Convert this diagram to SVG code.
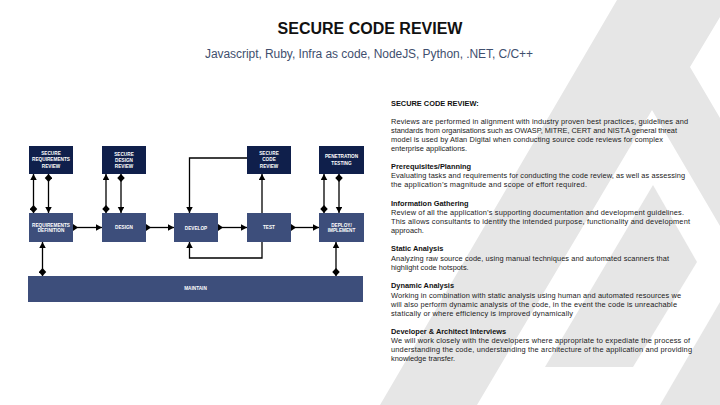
<svg xmlns="http://www.w3.org/2000/svg" width="720" height="405" viewBox="0 0 720 405">
<style>
.wm{fill:#e6e6e6}
.navy{fill:#0f1f4b}
.slate{fill:#3d4e7b}
.bt{font-family:"Liberation Sans",Arial,sans-serif;font-weight:bold;font-size:4.7px;fill:#ffffff;text-anchor:middle}
.body{font-family:"Liberation Sans",Arial,sans-serif;font-size:7.4px;fill:#1a1a1a}
.hd{font-family:"Liberation Sans",Arial,sans-serif;font-size:7.4px;font-weight:bold;fill:#111111}
.ln{fill:none;stroke:#000000;stroke-width:1.3}
.dd{marker-start:url(#dia);marker-end:url(#arr)}
.ta{marker-start:url(#tri);marker-end:url(#arr)}
.aa{marker-end:url(#arr)}
</style>
<defs>
<marker id="arr" markerUnits="userSpaceOnUse" markerWidth="7" markerHeight="7" refX="6" refY="3.25" orient="auto"><path d="M0,0 L6,3.25 L0,6.5 z" fill="#000"/></marker>
<marker id="dia" markerUnits="userSpaceOnUse" markerWidth="9" markerHeight="8" refX="0" refY="3.75" orient="auto"><path d="M0,3.75 L4,0 L8,3.75 L4,7.5 z" fill="#000"/></marker>
<marker id="tri" markerUnits="userSpaceOnUse" markerWidth="7" markerHeight="8" refX="0" refY="3.5" orient="auto"><path d="M0,0 L5,3.5 L0,7 z" fill="#000"/></marker>
</defs>
<rect width="720" height="405" fill="#ffffff"/>
<g id="watermark">
<polygon class="wm" points="617,0 720,0 720,17 690,67 720,118 720,226 652,110 477,405 380,405"/>
<polygon class="wm" points="653,185 697,262 633,367 545,367"/>
<polygon class="wm" points="660,405 720,405 720,302"/>
</g>
<g id="title">
<text x="370" y="34" font-family="Liberation Sans,Arial,sans-serif" font-weight="bold" font-size="16" fill="#111111" text-anchor="middle">SECURE CODE REVIEW</text>
<text x="369" y="58" font-family="Liberation Sans,Arial,sans-serif" font-size="12" fill="#3f4f6e" text-anchor="middle" textLength="328">Javascript, Ruby, Infra as code, NodeJS, Python, .NET, C/C++</text>
</g>
<g id="connectors">
<path class="ln dd" d="M33.5,213 V174"/>
<path class="ln dd" d="M48.5,174 V213"/>
<path class="ln dd" d="M106,213 V174"/>
<path class="ln dd" d="M121,174 V213"/>
<path class="ln dd" d="M324,213 V174"/>
<path class="ln dd" d="M339,174 V213"/>
<path class="ln ta" d="M73,227.5 H102"/>
<path class="ln ta" d="M146,227.5 H174"/>
<path class="ln ta" d="M218,227.5 H247"/>
<path class="ln ta" d="M291,227.5 H319"/>
<path class="ln aa" d="M262,213 V174"/>
<path class="ln aa" d="M247,158 H189.5 V213"/>
<path class="ln aa" d="M262,242 V258 H189.5 V242"/>
<path class="ln dd" d="M42.5,276 V242"/>
<path class="ln dd" d="M336,276 V242"/>
</g>
<g id="secure-requirements-review">
<rect class="navy" x="29" y="146" width="44" height="28"/>
<text class="bt" x="51" y="155">SECURE</text>
<text class="bt" x="51" y="161" textLength="38" lengthAdjust="spacingAndGlyphs">REQUIREMENTS</text>
<text class="bt" x="51" y="167.5">REVIEW</text>
</g>
<g id="secure-design-review">
<rect class="navy" x="102" y="146" width="44" height="28"/>
<text class="bt" x="124" y="155.5">SECURE</text>
<text class="bt" x="124" y="161.5">DESIGN</text>
<text class="bt" x="124" y="168">REVIEW</text>
</g>
<g id="secure-code-review">
<rect class="navy" x="247" y="146" width="44" height="28"/>
<text class="bt" x="269" y="155">SECURE</text>
<text class="bt" x="269" y="161">CODE</text>
<text class="bt" x="269" y="167.5">REVIEW</text>
</g>
<g id="penetration-testing">
<rect class="navy" x="319" y="146" width="45" height="28"/>
<text class="bt" x="341.5" y="158.3">PENETRATION</text>
<text class="bt" x="341.5" y="165">TESTING</text>
</g>
<g id="requirements-definition">
<rect class="slate" x="29" y="213" width="44" height="29"/>
<text class="bt" x="51" y="226.6" textLength="38" lengthAdjust="spacingAndGlyphs">REQUIREMENTS</text>
<text class="bt" x="51" y="232.3">DEFINITION</text>
</g>
<g id="design">
<rect class="slate" x="102" y="213" width="44" height="29"/>
<text class="bt" x="124" y="228.6">DESIGN</text>
</g>
<g id="develop">
<rect class="slate" x="174" y="213" width="44" height="29"/>
<text class="bt" x="196" y="229.5">DEVELOP</text>
</g>
<g id="test">
<rect class="slate" x="247" y="213" width="44" height="29"/>
<text class="bt" x="269" y="228.6">TEST</text>
</g>
<g id="deploy-implement">
<rect class="slate" x="319" y="213" width="45" height="29"/>
<text class="bt" x="341.5" y="226.6">DEPLOY/</text>
<text class="bt" x="341.5" y="232.3">IMPLEMENT</text>
</g>
<g id="maintain">
<rect class="slate" x="28" y="276" width="335" height="26"/>
<text class="bt" x="195.5" y="290">MAINTAIN</text>
</g>
<g id="description">
<text class="hd" x="391" y="106">SECURE CODE REVIEW:</text>
<text class="body" x="391" y="124" textLength="297">Reviews are performed in alignment with industry proven best practices, guidelines and</text>
<text class="body" x="391" y="133" textLength="286">standards from organisations such as OWASP, MITRE, CERT and NIST.A general threat</text>
<text class="body" x="391" y="142" textLength="272">model is used by Atlan Digital when conducting source code reviews for complex</text>
<text class="body" x="391" y="151">enterprise applications.</text>
<text class="hd" x="391" y="168.5">Prerequisites/Planning</text>
<text class="body" x="391" y="177.5" textLength="294">Evaluating tasks and requirements for conducting the code review, as well as assessing</text>
<text class="body" x="391" y="186.5" textLength="196">the application’s magnitude and scope of effort required.</text>
<text class="hd" x="391" y="206">Information Gathering</text>
<text class="body" x="391" y="215" textLength="293">Review of all the application’s supporting documentation and development guidelines.</text>
<text class="body" x="391" y="224" textLength="299">This allows consultants to identify the intended purpose, functionality and development</text>
<text class="body" x="391" y="232.5">approach.</text>
<text class="hd" x="391" y="251">Static Analysis</text>
<text class="body" x="391" y="261" textLength="278">Analyzing raw source code, using manual techniques and automated scanners that</text>
<text class="body" x="391" y="270">highlight code hotspots.</text>
<text class="hd" x="391" y="287.5">Dynamic Analysis</text>
<text class="body" x="391" y="298" textLength="290">Working in combination with static analysis using human and automated resources we</text>
<text class="body" x="391" y="306.5" textLength="286">will also perform dynamic analysis of the code, in the event the code is unreachable</text>
<text class="body" x="391" y="316" textLength="182">statically or where efficiency is improved dynamically</text>
<text class="hd" x="391" y="333.5">Developer &amp; Architect Interviews</text>
<text class="body" x="391" y="342.5" textLength="299">We will work closely with the developers where appropriate to expediate the process of</text>
<text class="body" x="391" y="352" textLength="301">understanding the code, understanding the architecture of the application and providing</text>
<text class="body" x="391" y="361">knowledge transfer.</text>
</g>
</svg>
